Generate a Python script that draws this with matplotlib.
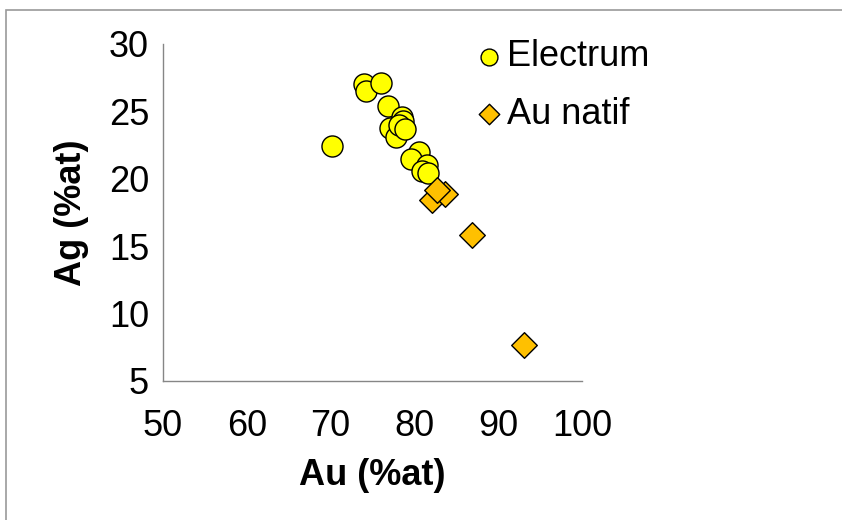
import matplotlib.pyplot as plt
from matplotlib.patches import Rectangle

plt.rcParams['font.family'] = ['Liberation Sans', 'DejaVu Sans']

# Electrum analyses (Au %at, Ag %at)
electrum_au = [70.2, 74.0, 74.2, 76.0, 76.8, 78.5, 78.6, 77.1, 77.8, 78.2, 78.9,
               80.5, 79.6, 81.5, 80.9, 81.6]
electrum_ag = [22.4, 27.0, 26.5, 27.1, 25.4, 24.6, 24.3, 23.8, 23.1, 24.0, 23.7,
               22.0, 21.5, 21.0, 20.6, 20.4]

# native gold analyses
natif_au = [82.1, 83.7, 82.7, 86.9, 93.1]
natif_ag = [18.4, 18.9, 19.2, 15.8, 7.7]

xticks = [50, 60, 70, 80, 90, 100]
yticks = [5, 10, 15, 20, 25, 30]

fig = plt.figure(figsize=(8.42, 5.20), dpi=100)
ax = fig.add_axes([163 / 842, 1 - 381 / 520, (582 - 163) / 842, (381 - 44) / 520])

# outer frame of the chart area
fig.patches.append(Rectangle((6 / 842, -0.01), 1.0, 1 - 10 / 520 + 0.01,
                             transform=fig.transFigure, fill=False,
                             edgecolor='#9a9a9a', linewidth=1.2))

ax.scatter(electrum_au, electrum_ag, s=230, marker='o', facecolor='#FFFF00',
           edgecolor='black', linewidth=1.0, label='Electrum', zorder=3)
ax.scatter(natif_au, natif_ag, s=170, marker='D', facecolor='#FFC000',
           edgecolor='black', linewidth=1.0, label='Au natif', zorder=3)

ax.set_xlim(50, 100)
ax.set_ylim(5, 30)
ax.set_xticks(xticks)
ax.set_yticks(yticks)
ax.tick_params(length=0, labelsize=26)
ax.tick_params(axis='x', pad=20)
ax.tick_params(axis='y', pad=10)

for side in ['top', 'right']:
    ax.spines[side].set_visible(False)
for side in ['left', 'bottom']:
    ax.spines[side].set_color('#868686')
    ax.spines[side].set_linewidth(1.0)

ax.set_xlabel('Au (%at)', fontsize=26, fontweight='bold', labelpad=10)
ax.set_ylabel('Ag (%at)', fontsize=26, fontweight='bold', labelpad=14)

leg = ax.legend(loc='upper left', bbox_to_anchor=(458 / 842, 1 - 25 / 520),
                bbox_transform=fig.transFigure, frameon=False, fontsize=26,
                handletextpad=0.05, labelspacing=0.62, borderaxespad=0,
                handlelength=0.9, markerscale=0.8)

fig.savefig('out.png', dpi=100)
